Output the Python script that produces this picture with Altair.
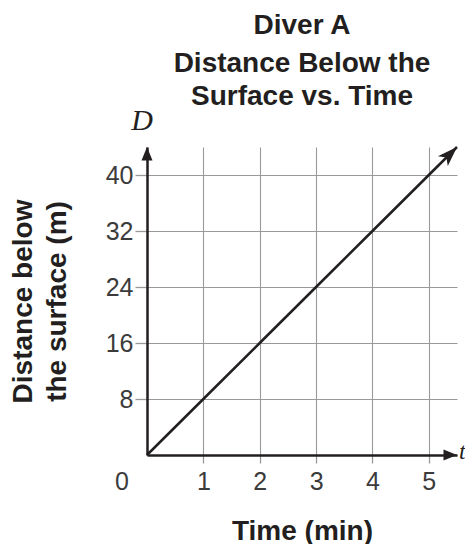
import altair as alt
import pandas as pd

# ---- data ----
time_min = [0, 1, 2, 3, 4, 5, 5.5]
distance_m = [0, 8, 16, 24, 32, 40, 44]
x_grid = [0, 0.5, 1, 1.5, 2, 2.5, 3, 3.5, 4, 4.5, 5, 5.5]
y_grid = [0, 4, 8, 12, 16, 20, 24, 28, 32, 36, 40, 44]
title_main = "Diver A"
title_lines = ["Distance Below the", "Surface vs. Time"]
y_title_lines = ["Distance below", "the surface (m)"]
x_title = "Time (min)"
x_var = ["t"]
y_var = ["D"]
origin_label = ["0"]

INK = "#231f20"
GRID = "#999999"
LABEL = "#3b3b3b"
SANS = "Liberation Sans"
SERIF = "Liberation Serif"

x_max = x_grid[-1]
y_max = y_grid[-1]

x_scale = alt.Scale(domain=[x_grid[0], x_max], nice=False, zero=True)
y_scale = alt.Scale(domain=[y_grid[0], y_max], nice=False, zero=True)

line_df = pd.DataFrame({"t": time_min, "D": distance_m})
tip_df = line_df.tail(1)
axis_arrow_df = pd.DataFrame({"t": [0, x_max], "D": [y_max, 0], "angle": [0, 90]})
origin_df = pd.DataFrame({"t": [0], "D": [0], "lab": origin_label})
dvar_df = pd.DataFrame({"t": [0], "D": [y_max], "lab": y_var})
tvar_df = pd.DataFrame({"t": [x_max], "D": [0], "lab": x_var})

x_axis = alt.Axis(
    values=x_grid, grid=True, gridColor=GRID, gridWidth=1.1,
    domainColor=INK, domainWidth=2.5,
    tickColor=GRID, tickWidth=1.3, tickSize=8,
    tickOpacity={"condition": {"test": "datum.value % 1 == 0 && datum.value > 0", "value": 1}, "value": 0},
    labelExpr="datum.value % 1 == 0 && datum.value > 0 ? format(datum.value, 'd') : ''",
    labelFont=SANS, labelFontSize=25, labelColor=LABEL, labelPadding=6,
    labelFlush=False, labelOverlap=False,
    title=x_title, titleFont=SANS, titleFontSize=28, titleFontWeight="bold",
    titleColor=INK, titleX=155, titleY=84, titleBaseline="alphabetic",
    titleAlign="center", titleAngle=0,
)

y_axis = alt.Axis(
    values=y_grid, grid=True, gridColor=GRID, gridWidth=1.1,
    domainColor=INK, domainWidth=2.5,
    tickColor=GRID, tickWidth=1.3, tickSize=12,
    tickOpacity={"condition": {"test": "datum.value % 8 == 0 && datum.value > 0", "value": 1}, "value": 0},
    labelExpr="datum.value % 8 == 0 && datum.value > 0 ? format(datum.value, 'd') : ''",
    labelFont=SANS, labelFontSize=25, labelColor=LABEL, labelPadding=2,
    labelFlush=False, labelOverlap=False,
    title=y_title_lines, titleFont=SANS, titleFontSize=28, titleFontWeight="bold",
    titleColor=INK, titleAngle=270, titleX=-116, titleY=154,
    titleBaseline="alphabetic", titleAlign="center", titleLineHeight=34,
)

line = alt.Chart(line_df).mark_line(color=INK, strokeWidth=2.5).encode(
    x=alt.X("t:Q", scale=x_scale, axis=x_axis),
    y=alt.Y("D:Q", scale=y_scale, axis=y_axis),
)

line_tip = alt.Chart(tip_df).mark_point(
    shape="M0,0L-0.7,2L0,1.5L0.7,2Z", filled=True, size=400,
    color=INK, opacity=1, angle=45, strokeWidth=0,
).encode(x=alt.X("t:Q", scale=x_scale), y=alt.Y("D:Q", scale=y_scale))

axis_tips = alt.Chart(axis_arrow_df).mark_point(
    shape="M0,0L-0.55,1.35L0.55,1.35Z", filled=True, size=400,
    color=INK, opacity=1, strokeWidth=0,
).encode(
    x=alt.X("t:Q", scale=x_scale), y=alt.Y("D:Q", scale=y_scale),
    angle=alt.Angle("angle:Q", scale=None),
)

origin_txt = alt.Chart(origin_df).mark_text(
    font=SANS, fontSize=25, color=LABEL, align="center", baseline="middle", dx=-25, dy=27,
).encode(x=alt.X("t:Q", scale=x_scale), y=alt.Y("D:Q", scale=y_scale), text="lab:N")

d_txt = alt.Chart(dvar_df).mark_text(
    font=SERIF, fontSize=30, fontStyle="italic", color=INK, align="center",
    baseline="alphabetic", dx=-5, dy=-17,
).encode(x=alt.X("t:Q", scale=x_scale), y=alt.Y("D:Q", scale=y_scale), text="lab:N")

t_txt = alt.Chart(tvar_df).mark_text(
    font=SERIF, fontSize=24, fontStyle="italic", color=INK, align="left",
    baseline="alphabetic", dx=2, dy=4,
).encode(x=alt.X("t:Q", scale=x_scale), y=alt.Y("D:Q", scale=y_scale), text="lab:N")

chart = alt.layer(line, line_tip, axis_tips, origin_txt, d_txt, t_txt).properties(
    width=310,
    height=308,
    autosize=alt.AutoSizeParams(type="none"),
    padding={"left": 139, "top": 139, "right": 8, "bottom": 89},
    background="white",
    title=alt.TitleParams(
        text=title_main, subtitle=title_lines, anchor="middle", frame="group",
        font=SANS, fontSize=28, fontWeight="bold", color=INK,
        subtitleFont=SANS, subtitleFontSize=28, subtitleFontWeight="bold",
        subtitleColor=INK, subtitleLineHeight=33, subtitlePadding=10, offset=-5,
    ),
).configure_view(stroke=None)

chart.save("out.html", embed_options={"renderer": "svg", "actions": False})
